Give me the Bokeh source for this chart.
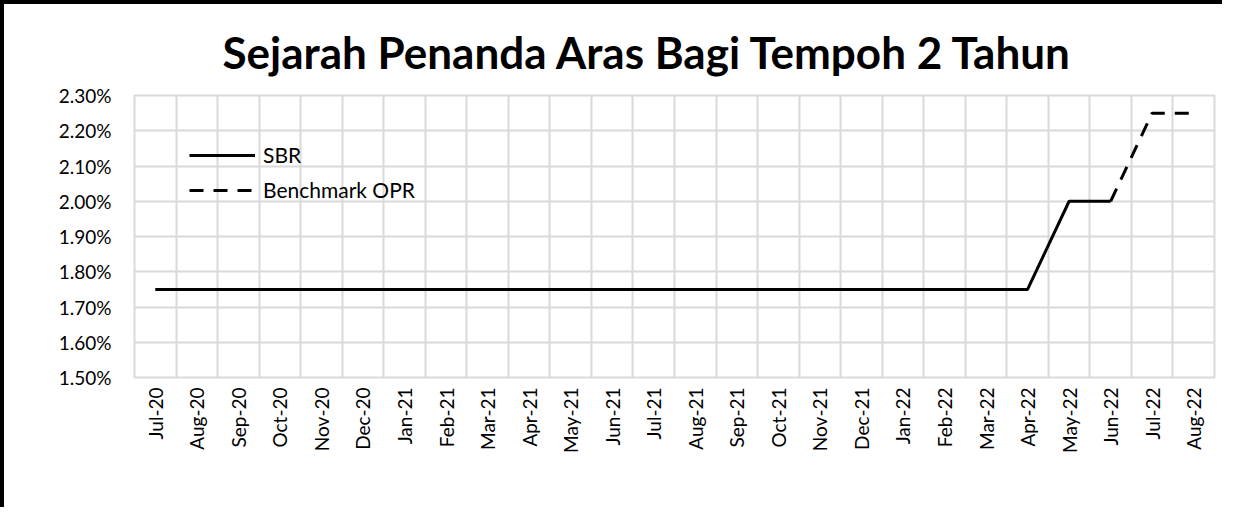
from bokeh.plotting import figure
from bokeh.models import FixedTicker, PrintfTickFormatter, Legend, LegendItem
from bokeh.embed import file_html
from bokeh.resources import INLINE
import math

months = ["Jul-20", "Aug-20", "Sep-20", "Oct-20", "Nov-20", "Dec-20",
          "Jan-21", "Feb-21", "Mar-21", "Apr-21", "May-21", "Jun-21",
          "Jul-21", "Aug-21", "Sep-21", "Oct-21", "Nov-21", "Dec-21",
          "Jan-22", "Feb-22", "Mar-22", "Apr-22", "May-22", "Jun-22",
          "Jul-22", "Aug-22"]
sbr = [1.75] * 22 + [2.00, 2.00, None, None]
opr = [None] * 23 + [2.00, 2.25, 2.25]
y_ticks = [1.5, 1.6, 1.7, 1.8, 1.9, 2.0, 2.1, 2.2, 2.3]
title_text = "Sejarah Penanda Aras Bagi Tempoh 2 Tahun"

FONT = "Lato"
GRID = "#d9d9d9"

n = len(months)
xc = [i + 0.5 for i in range(n)]

p = figure(width=1222, height=507, output_backend="svg", toolbar_location=None,
           x_range=(0, n), y_range=(y_ticks[0], y_ticks[-1]),
           min_border_left=130, min_border_right=12, min_border_top=91,
           min_border_bottom=134)

# outer chart border (top and left edges visible in the reference)
p.styles = {"border-top": "4px solid black", "border-left": "4px solid black"}

p.title.text = title_text
p.title.align = "left"
p.title.offset = 88
p.title.text_font = FONT
p.title.text_font_style = "bold"
p.title.text_font_size = "44px"
p.title.text_color = "black"
p.title.standoff = 36

p.outline_line_color = GRID
p.outline_line_width = 2

# x axis
p.xaxis.ticker = FixedTicker(ticks=xc)
p.xaxis.major_label_overrides = {x: m for x, m in zip(xc, months)}
p.xaxis.major_label_orientation = math.pi / 2
p.xaxis.major_label_text_font = FONT
p.xaxis.major_label_text_font_size = "19px"
p.xaxis.major_label_text_color = "black"
p.xaxis.axis_line_color = None
p.xaxis.major_tick_line_color = None
p.xaxis.minor_tick_line_color = None
p.xaxis.major_label_standoff = 4

# y axis
p.yaxis.ticker = FixedTicker(ticks=y_ticks)
p.yaxis.formatter = PrintfTickFormatter(format="%.2f%%")
p.yaxis.major_label_text_font = FONT
p.yaxis.major_label_text_font_size = "19px"
p.yaxis.major_label_text_color = "black"
p.yaxis.axis_line_color = None
p.yaxis.major_tick_line_color = None
p.yaxis.minor_tick_line_color = None
p.yaxis.major_label_standoff = 17

# grids
p.xgrid.ticker = FixedTicker(ticks=list(range(n + 1)))
p.xgrid.grid_line_color = GRID
p.xgrid.grid_line_width = 2
p.ygrid.ticker = FixedTicker(ticks=y_ticks)
p.ygrid.grid_line_color = GRID
p.ygrid.grid_line_width = 2

sbr_x = [x for x, v in zip(xc, sbr) if v is not None]
sbr_y = [v for v in sbr if v is not None]
opr_x = [x for x, v in zip(xc, opr) if v is not None]
opr_y = [v for v in opr if v is not None]

r1 = p.line(sbr_x, sbr_y, line_color="black", line_width=3)
r2 = p.line(opr_x, opr_y, line_color="black", line_width=3, line_dash="14 10")

legend = Legend(items=[LegendItem(label="SBR", renderers=[r1]),
                       LegendItem(label="Benchmark OPR", renderers=[r2])],
                location=(55, 175), padding=0, margin=0, spacing=10,
                glyph_width=66, glyph_height=20, label_height=20,
                label_standoff=8, background_fill_alpha=0,
                border_line_alpha=0, label_text_font=FONT,
                label_text_font_size="21px", label_text_color="black")
p.add_layout(legend)

open("out.html", "w").write(file_html(p, INLINE))
